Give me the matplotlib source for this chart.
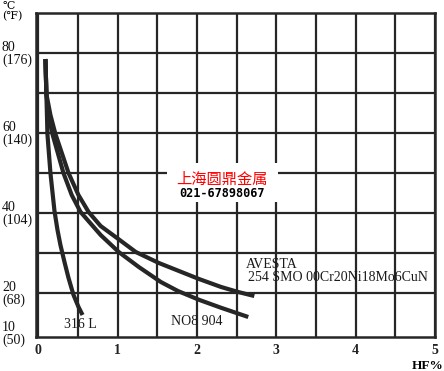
import matplotlib
matplotlib.use("Agg")
import matplotlib.pyplot as plt
from matplotlib.patches import Rectangle

# curve readings: HF concentration (%) vs temperature (deg C)
hf_316l = [0.089, 0.101, 0.108, 0.114, 0.152, 0.203, 0.241, 0.278, 0.329, 0.380, 0.443, 0.506, 0.557]
t_316l = [78.5, 69.75, 64.5, 59.75, 50.0, 40.5, 35.75, 32.0, 27.75, 23.75, 19.5, 16.5, 14.5]

hf_904 = [0.089, 0.101, 0.127, 0.177, 0.316, 0.42, 0.532, 0.785, 1.013, 1.266, 1.544, 1.759,
          2.025, 2.304, 2.646]
t_904 = [78.5, 69.75, 64.5, 59.75, 50.0, 44.5, 40.25, 34.5, 30.25, 26.5, 22.75, 20.5,
         18.3, 16.3, 14.0]

hf_254 = [0.089, 0.101, 0.152, 0.215, 0.38, 0.505, 0.633, 0.785, 1.025, 1.228, 1.519, 2.025,
          2.304, 2.519, 2.722]
t_254 = [78.5, 69.75, 64.5, 59.75, 50.0, 44.5, 40.25, 36.75, 33.25, 30.25, 27.5, 23.5,
         21.5, 20.25, 19.25]

x_ticks = [0, 1, 2, 3, 4, 5]
x_grid = [0.5, 1.5, 2.5, 3.5, 4.5]
y_ticks = [10, 20, 40, 60, 80]
y_labels = ["10\n(50)", "20\n(68)", "40\n(104)", "60\n(140)", "80\n(176)"]
y_grid = [20, 30, 40, 50, 60, 70, 80]

SERIF = ["Liberation Serif", "DejaVu Serif"]
INK = "#262626"

fig = plt.figure(figsize=(4.44, 3.71), dpi=100)
ax = fig.add_axes([36 / 444, 34 / 371, 399 / 444, 324 / 371])

ax.set_xlim(-0.03, 5)
ax.set_ylim(9, 90)

ax.set_xticks(x_ticks)
ax.set_xticks(x_grid, minor=True)
ax.set_yticks(y_ticks)
ax.set_yticklabels(y_labels)
ax.set_yticks(y_grid, minor=True)
ax.yaxis.remove_overlapping_locs = False
ax.grid(True, which="minor", color=INK, lw=1.6)
ax.grid(True, which="major", axis="x", color=INK, lw=1.6)
ax.set_axisbelow(True)
for s in ax.spines.values():
    s.set_color(INK)
    s.set_linewidth(1.8)

ax.tick_params(which="both", length=0)
ax.tick_params(axis="x", pad=5)
ax.tick_params(axis="y", pad=24.5)
for lab in ax.get_yticklabels():
    lab.set_ha("left")
    lab.set_family(SERIF)
    lab.set_fontsize(10)
    lab.set_linespacing(0.95)
    lab.set_color("#111111")
for lab in ax.get_xticklabels():
    lab.set_family(SERIF)
    lab.set_fontsize(10)
    lab.set_fontweight("bold")
    lab.set_color("#222222")

ax.set_xlabel("HF%", family=SERIF, fontsize=9.5, fontweight="bold", ha="right")
ax.xaxis.set_label_coords(1.022, -0.07)

fig.text(2 / 444, 1 - 1 / 371, "\u2103\n(\u2109)", family=["DejaVu Serif", "DejaVu Sans"],
         fontsize=8, va="top", ha="left", linespacing=0.95)

kw = dict(color=INK, lw=3.0, solid_capstyle="butt", solid_joinstyle="round")
ax.plot(hf_316l, t_316l, **kw)
ax.plot(hf_904, t_904, **kw)
ax.plot(hf_254, t_254, **kw)

tk = dict(family=SERIF, fontsize=10, color="#1a1a1a")
ax.text(0.53, 12.2, "316 L", ha="center", va="center", **tk)
ax.text(2.0, 12.8, "NO8 904", ha="center", va="center", **tk)
ax.text(2.62, 27.0, "AVESTA", ha="left", va="center", **tk)
ax.text(2.64, 23.8, "254 SMO 00Cr20Ni18Mo6CuN", ha="left", va="center", **tk)

# watermark box
ax.add_patch(Rectangle((0.328, 0.417), 0.279, 0.12, transform=ax.transAxes,
                       facecolor="white", edgecolor="none", zorder=3))
ax.text(0.466, 0.487, "上海圆鼎金属", transform=ax.transAxes, ha="center", va="center",
        family=["Noto Sans CJK SC", "DejaVu Sans"], fontsize=11, color="red", zorder=4)
ax.text(0.466, 0.444, "021-67898067", transform=ax.transAxes, ha="center", va="center",
        family="DejaVu Sans Mono", fontsize=8.6, fontweight="bold", color="black", zorder=4)

fig.savefig("out.png", dpi=100)
